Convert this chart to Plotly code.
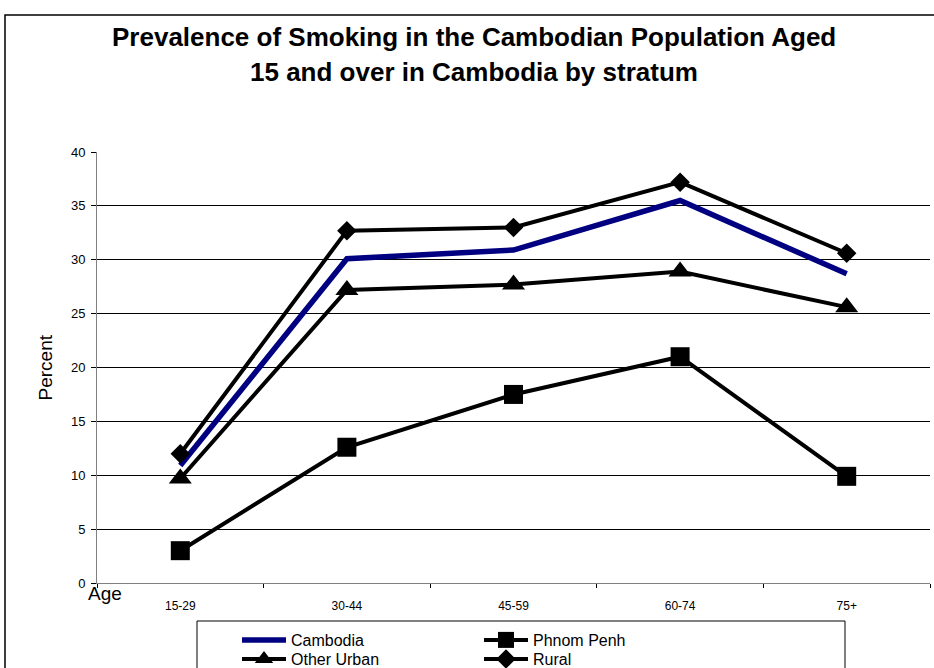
import plotly.graph_objects as go

# Age groups on the x axis
age_groups = ["15-29", "30-44", "45-59", "60-74", "75+"]

# Smoking prevalence (%) by stratum
cambodia = [10.9, 30.1, 30.9, 35.5, 28.7]
phnom_penh = [3.0, 12.6, 17.5, 21.0, 9.9]
other_urban = [9.7, 27.2, 27.7, 28.9, 25.6]
rural = [12.0, 32.7, 33.0, 37.2, 30.6]

y_ticks = [0, 5, 10, 15, 20, 25, 30, 35, 40]

FONT = "Liberation Sans, Arial, sans-serif"
W, H = 934, 668
M_L, M_R, M_T, M_B = 97, 4, 152, 85
PW = W - M_L - M_R
PH = H - M_T - M_B


def px_x(x):
    return (x - M_L) / PW


def px_y(y):
    return (H - M_B - y) / PH


fig = go.Figure()

fig.add_trace(go.Scatter(
    x=age_groups, y=cambodia, name="Cambodia", mode="lines",
    line=dict(color="#000080", width=5.5), legend="legend",
))
fig.add_trace(go.Scatter(
    x=age_groups, y=phnom_penh, name="Phnom Penh", mode="lines+markers",
    line=dict(color="#000000", width=4),
    marker=dict(symbol="square", size=19, color="#000000"), legend="legend",
))
fig.add_trace(go.Scatter(
    x=age_groups, y=other_urban, name="Other Urban", mode="lines+markers",
    line=dict(color="#000000", width=4),
    marker=dict(symbol="triangle-up", size=20, color="#000000"), legend="legend2",
))
fig.add_trace(go.Scatter(
    x=age_groups, y=rural, name="Rural", mode="lines+markers",
    line=dict(color="#000000", width=4),
    marker=dict(symbol="diamond", size=15, color="#000000"), legend="legend2",
))

legend_common = dict(
    orientation="h", xanchor="left", yanchor="middle",
    font=dict(family=FONT, size=16, color="#000000"),
    bgcolor="rgba(0,0,0,0)", borderwidth=0, itemwidth=44,
    entrywidth=183, entrywidthmode="pixels", tracegroupgap=0,
    itemclick=False, itemdoubleclick=False,
)

fig.update_layout(
    width=W, height=H,
    margin=dict(l=M_L, r=M_R, t=M_T, b=M_B, autoexpand=False),
    paper_bgcolor="#ffffff", plot_bgcolor="#ffffff",
    font=dict(family=FONT, color="#000000"),
    showlegend=True,
    legend=dict(x=px_x(237), y=px_y(640), **legend_common),
    legend2=dict(x=px_x(237), y=px_y(659), **legend_common),
    xaxis=dict(
        type="category", range=[-0.5, 4.5],
        showgrid=False, showline=True, linecolor="#808080", linewidth=1,
        ticks="outside", tickson="boundaries", ticklen=4, tickcolor="#000000",
        tickfont=dict(family=FONT, size=12, color="#000000"),
        ticklabelstandoff=12, zeroline=False,
    ),
    yaxis=dict(
        range=[0, 40], tickvals=y_ticks,
        showgrid=True, gridcolor="#000000", gridwidth=1,
        showline=True, linecolor="#808080", linewidth=1,
        ticks="outside", ticklen=5, tickcolor="#000000",
        tickfont=dict(family=FONT, size=13, color="#000000"),
        ticklabelstandoff=3, zeroline=False,
    ),
    shapes=[
        # outer chart frame
        dict(type="rect", xref="paper", yref="paper",
             x0=px_x(5), x1=px_x(936), y0=px_y(700), y1=px_y(15),
             line=dict(color="#000000", width=1.5), fillcolor="rgba(0,0,0,0)",
             layer="below"),
        # legend frame
        dict(type="rect", xref="paper", yref="paper",
             x0=px_x(197), x1=px_x(845), y0=px_y(700), y1=px_y(621),
             line=dict(color="#000000", width=1), fillcolor="#ffffff",
             layer="below"),
    ],
    annotations=[
        dict(text="<b>Prevalence of Smoking in the Cambodian Population Aged</b>",
             xref="paper", yref="paper", x=px_x(474), y=px_y(37),
             xanchor="center", yanchor="middle", showarrow=False,
             font=dict(family=FONT, size=26, color="#000000")),
        dict(text="<b>15 and over in Cambodia by stratum</b>",
             xref="paper", yref="paper", x=px_x(474), y=px_y(72),
             xanchor="center", yanchor="middle", showarrow=False,
             font=dict(family=FONT, size=26, color="#000000")),
        dict(text="Percent", textangle=-90,
             xref="paper", yref="paper", x=px_x(45), y=0.5,
             xanchor="center", yanchor="middle", showarrow=False,
             font=dict(family=FONT, size=19, color="#000000")),
        dict(text="Age",
             xref="paper", yref="paper", x=px_x(86), y=px_y(593),
             xanchor="left", yanchor="middle", showarrow=False,
             font=dict(family=FONT, size=19, color="#000000")),
    ],
)

fig.write_html("out.html")
